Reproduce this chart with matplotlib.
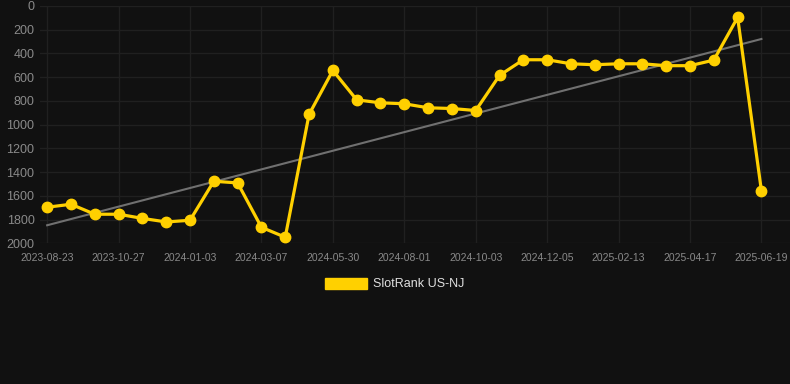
import matplotlib
matplotlib.use("Agg")
import matplotlib.pyplot as plt
import numpy as np
from matplotlib.patches import Patch

plt.rcParams["font.family"] = ["Liberation Sans", "DejaVu Sans"]

dates = ["2023-08-23", "2023-09-13", "2023-10-05", "2023-10-27", "2023-11-17",
         "2023-12-10", "2024-01-03", "2024-01-24", "2024-02-14", "2024-03-07",
         "2024-04-04", "2024-05-02", "2024-05-30", "2024-06-20", "2024-07-11",
         "2024-08-01", "2024-08-22", "2024-09-12", "2024-10-03", "2024-10-24",
         "2024-11-14", "2024-12-05", "2024-12-29", "2025-01-21", "2025-02-13",
         "2025-03-06", "2025-03-27", "2025-04-17", "2025-05-08", "2025-05-29",
         "2025-06-19"]
ranks = [1696, 1671, 1755, 1755, 1790, 1820, 1806, 1477, 1491, 1865, 1949,
         914, 543, 791, 816, 824, 858, 864, 881, 585, 453, 453, 487, 495,
         487, 487, 503, 503, 456, 96, 1558]
trend_ends = [1848, 278]
y_ticks = [0, 200, 400, 600, 800, 1000, 1200, 1400, 1600, 1800, 2000]
series_name = "SlotRank US-NJ"

bg = "#111111"
gold = "#FFD000"
fig = plt.figure(figsize=(7.9, 3.84), dpi=100, facecolor=bg)
ax = fig.add_axes([40/790, 1 - 243.3/384, 1 - 40/790, (243.3 - 6)/384])
ax.set_facecolor(bg)

x = np.arange(len(ranks))
ax.plot([x[0], x[-1]], trend_ends, color="#707070", lw=1.5, zorder=2)
ax.plot(x, ranks, color=gold, lw=2.3, marker="o", markersize=7.5,
        zorder=3, label=series_name, clip_on=False)

ax.set_ylim(2000, 0)
ax.set_xlim(-0.3, 31.2)
ax.set_yticks(y_ticks)
ax.set_yticklabels([str(v) for v in y_ticks])
tick_idx = list(range(0, len(dates), 3))
ax.set_xticks(tick_idx)
ax.set_xticklabels([dates[i] for i in tick_idx])

ax.grid(True, color="#202020", lw=1.0, zorder=0)
for s in ax.spines.values():
    s.set_visible(False)
ax.tick_params(axis="y", colors="#8a8a8a", labelsize=9, length=0, pad=4)
ax.tick_params(axis="x", colors="#8a8a8a", labelsize=7.5, length=0, pad=7)

handle = Patch(facecolor=gold, edgecolor=gold)
leg = fig.legend([handle], [series_name], loc="center", bbox_to_anchor=(0.5, 1 - 284/384),
                 frameon=False, handlelength=3.33, handleheight=1.0, handletextpad=0.5,
                 fontsize=9)
for t in leg.get_texts():
    t.set_color("#e0e0e0")

fig.savefig("out.png", dpi=100, facecolor=bg)
